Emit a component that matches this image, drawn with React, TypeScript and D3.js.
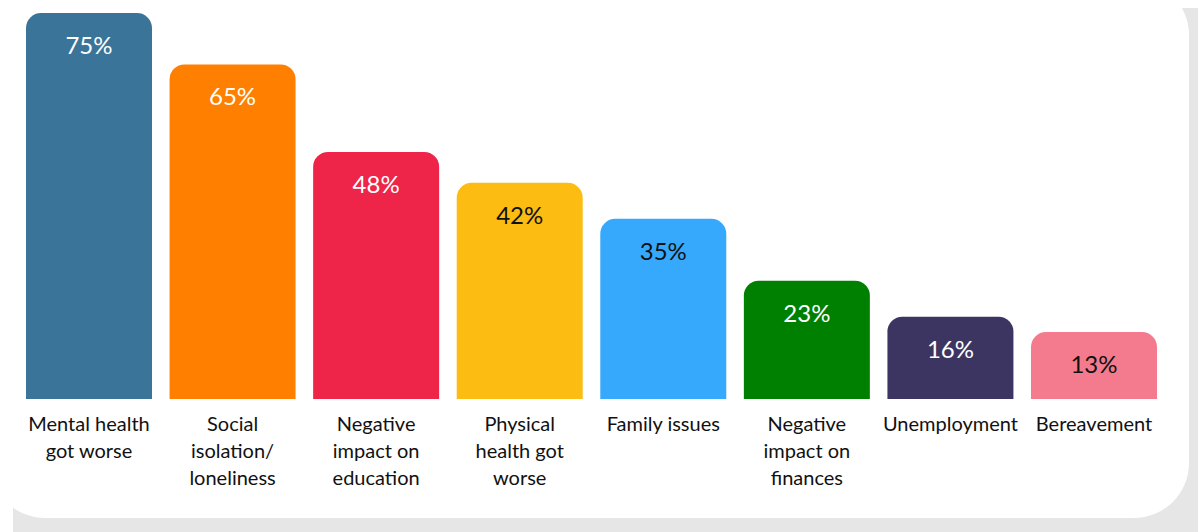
import React from "react";
import * as d3 from "d3";

const categories: string[][] = [
  ["Mental health", "got worse"],
  ["Social", "isolation/", "loneliness"],
  ["Negative", "impact on", "education"],
  ["Physical", "health got", "worse"],
  ["Family issues"],
  ["Negative", "impact on", "finances"],
  ["Unemployment"],
  ["Bereavement"],
];
const values: number[] = [75, 65, 48, 42, 35, 23, 16, 13];
const colors: string[] = ["#3a7499", "#ff7f00", "#ee2449", "#fdbc11", "#36a9fd", "#008001", "#3d3561", "#f47b8e"];
const labelColors: string[] = ["#ffffff", "#ffffff", "#ffffff", "#111111", "#111111", "#ffffff", "#ffffff", "#111111"];

const W = 1198;
const H = 532;
const FONT = "Lato, 'Noto Sans', sans-serif";

export default function App() {
  const x = d3
    .scaleBand<number>()
    .domain(d3.range(values.length))
    .range([26, 1157])
    .paddingInner(0.1224)
    .paddingOuter(0);
  const y = d3.scaleLinear().domain([0, 75]).range([399, 13]);
  const r = 15;

  const barPath = (i: number) => {
    const x0 = x(i)!;
    const w = x.bandwidth();
    const y0 = y(values[i]);
    const yb = y(0);
    const p = d3.path();
    p.moveTo(x0, yb);
    p.lineTo(x0, y0 + r);
    p.arcTo(x0, y0, x0 + r, y0, r);
    p.lineTo(x0 + w - r, y0);
    p.arcTo(x0 + w, y0, x0 + w, y0 + r, r);
    p.lineTo(x0 + w, yb);
    p.closePath();
    return p.toString();
  };

  return (
    <div style={{ position: "absolute", left: 0, top: 0, width: W, height: H }}>
      <svg width={W} height={H} style={{ display: "block" }}>
        <rect x={0} y={0} width={W} height={H} fill="#ffffff" />
        <rect x={13} y={8} width={1300} height={600} rx={55} fill="#e6e6e6" />
        <rect x={-10} y={-20} width={1199} height={538} rx={55} fill="#ffffff" />
        {values.map((v, i) => (
          <g key={i}>
            <path d={barPath(i)} fill={colors[i]} />
            <text
              x={x(i)! + x.bandwidth() / 2}
              y={y(v) + 41}
              textAnchor="middle"
              fontFamily={FONT}
              fontWeight={400}
              fontSize={24}
              fill={labelColors[i]}
            >
              {v}%
            </text>
            <text
              x={x(i)! + x.bandwidth() / 2}
              textAnchor="middle"
              fontFamily={FONT}
              fontSize={20}
              fill="#111111"
            >
              {categories[i].map((line, j) => (
                <tspan key={j} x={x(i)! + x.bandwidth() / 2} y={431 + j * 27}>
                  {line}
                </tspan>
              ))}
            </text>
          </g>
        ))}
      </svg>
    </div>
  );
}
